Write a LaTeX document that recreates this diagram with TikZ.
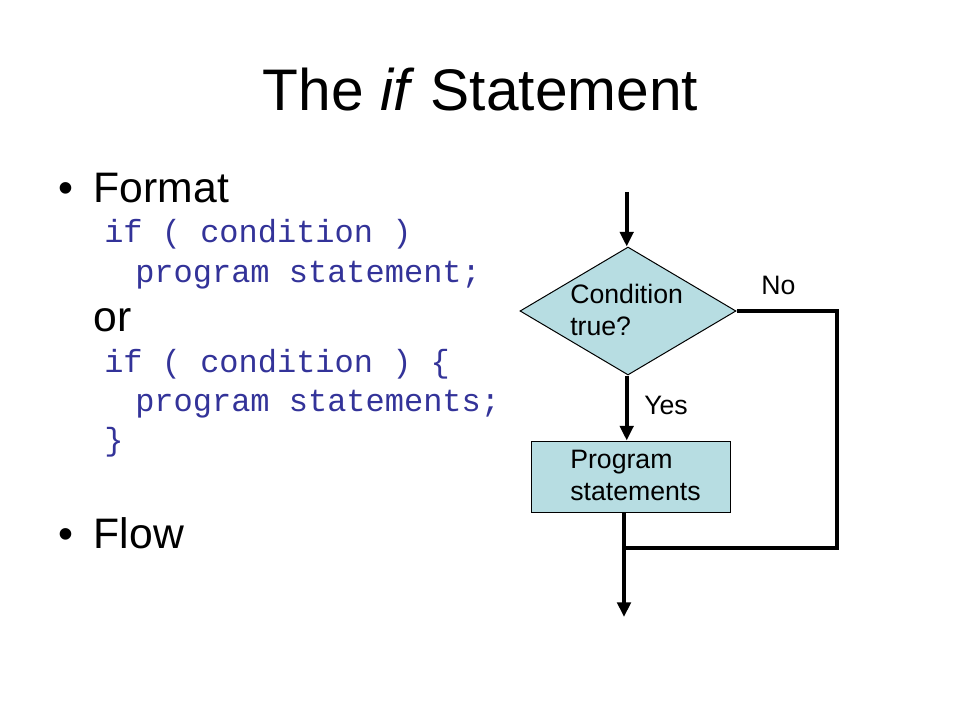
\documentclass[tikz,border=0pt]{standalone}
\usepackage{fontspec}
\setmainfont{Liberation Sans}
\setmonofont{Liberation Mono}
\usetikzlibrary{shapes.geometric,arrows.meta}
\definecolor{codeblue}{RGB}{51,51,153}
\definecolor{boxfill}{RGB}{183,221,226}
\tikzset{
  titletext/.style={inner sep=0pt,anchor=base,font=\fontsize{44}{53}\selectfont},
  bodytext/.style={inner sep=0pt,anchor=base west,font=\fontsize{32}{38}\selectfont},
  codetext/.style={inner sep=0pt,anchor=base west,text=codeblue,font=\ttfamily\fontsize{24}{29}\selectfont},
  flowtext/.style={inner sep=0pt,anchor=base west,align=left,font=\fontsize{20}{24}\selectfont},
  decision/.style={diamond,draw=black,line width=0.75pt,fill=boxfill,inner sep=0pt,minimum width=162pt,minimum height=96pt},
  process/.style={rectangle,draw=black,line width=0.75pt,fill=boxfill,inner sep=0pt,minimum width=149.25pt,minimum height=53.25pt},
  flowline/.style={line width=3pt,draw=black},
  flowarrow/.style={flowline,-{Triangle[length=11pt,width=10pt]}},
}
\begin{document}
\begin{tikzpicture}[x=0.75pt,y=-0.75pt]
\fill[white] (0,0) rectangle (960,720);
\useasboundingbox (0,0) rectangle (960,720);
% title
\node[titletext] (title) at (480.5,111) {The \textit{if} Statement};
% left text
\node[bodytext] (b1) at (58,203) {•};
\node[bodytext] (format) at (93.5,203) {Format};
\node[codetext] (c1) at (104,243) {if ( condition )};
\node[codetext] (c2) at (135,283) {program statement;};
\node[bodytext] (or) at (93.5,331) {or};
\node[codetext] (c3) at (104,372) {if ( condition ) \{};
\node[codetext] (c4) at (135,411) {program statements;};
\node[codetext] (c5) at (104,450) {\}};
\node[bodytext] (b2) at (58,548) {•};
\node[bodytext] (flow) at (93.5,548) {Flow};
% flowchart
\node[decision] (cond) at (628,311) {};
\node[flowtext] (condtext) at (570,335) {Condition\\true?};
\node[process] (box) at (630.5,476.5) {};
\node[flowtext] (boxtext) at (570,500) {Program\\statements};
\node[flowtext] (no) at (761,295) {No};
\node[flowtext] (yes) at (644,414) {Yes};
\coordinate (top) at (626.7,192);
\coordinate (join) at (624,548);
\coordinate (end) at (624,617);
\coordinate (rightx) at (837,548);
\draw[flowarrow] (top) -- (top |- cond.north);
\draw[flowarrow] (top |- cond.south) -- (top |- box.north);
\draw[flowarrow] (join |- box.south) -- (end);
\draw[flowline,line join=miter] (cond.east) -- (cond.east -| rightx) -- (rightx) -- (join);
\end{tikzpicture}
\end{document}
